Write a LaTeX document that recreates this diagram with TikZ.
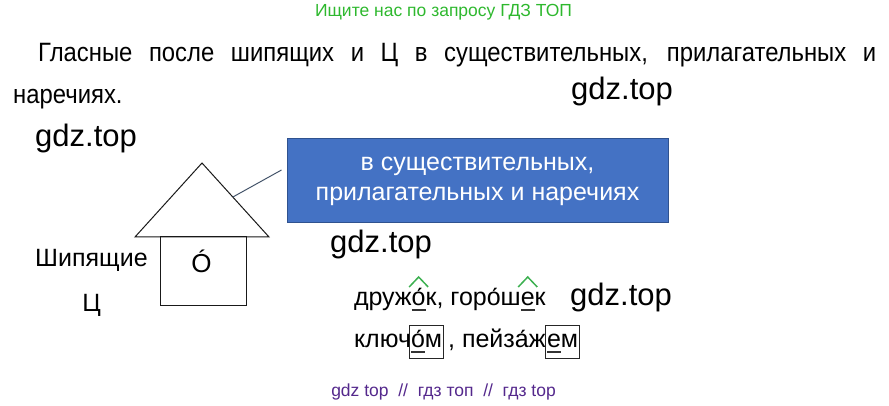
\documentclass[tikz,border=0pt]{standalone}
\usepackage{fontspec}
\setmainfont{Liberation Sans}
\newfontfamily\narrowfont[FakeStretch=0.9]{Liberation Sans}
\usetikzlibrary{calc}

\definecolor{adgreen}{RGB}{46,184,46}
\definecolor{hatgreen}{RGB}{60,176,80}
\definecolor{boxblue}{RGB}{68,114,196}
\definecolor{boxline}{RGB}{47,82,143}
\definecolor{linkgray}{RGB}{68,84,106}
\definecolor{gdzpurple}{RGB}{84,40,140}

\tikzset{
	word/.style={font=\fontsize{25}{28}\selectfont, inner sep=0pt, outer sep=0pt, anchor=base west},
	house/.style={draw=black!90, line width=1pt},
	hat/.style={draw=hatgreen, line width=1.5pt},
	uline/.style={draw=black!80, line width=1.1pt},
	endingbox/.style={draw=black!85, line width=0.9pt},
	link/.style={draw=linkgray, line width=1pt}
}

\newcommand{\gdzmark}[3]{
	\node[font=\fontsize{31}{36}\selectfont, inner sep=0, anchor=base west] (#1) at (#2,#3) {gdz.top};
}
\newcommand{\wordhat}[1]{
	\draw[hat] ([shift={(-9.5,19)}]#1.base) -- ([shift={(0,29)}]#1.base) -- ([shift={(9.5,19)}]#1.base);
}
\newcommand{\wordline}[1]{
	\draw[uline] ([yshift=-4pt]#1.base west) -- ([yshift=-4pt]#1.base east);
}
\newcommand{\suffixbox}[2]{
	\draw[endingbox] ([shift={(-1.5,-10)}]#1.base west) rectangle ([shift={(1.5,23)}]#2.base east);
}

\begin{document}
\begin{tikzpicture}[x=1pt, y=1pt]
	\useasboundingbox (0,0) rectangle (889,406);

	\node[text=adgreen, font=\fontsize{17.5}{20}\selectfont, inner sep=0, anchor=base] (ad) at (443.5,389) {Ищите нас по запросу ГДЗ ТОП};
	\node[font=\narrowfont\fontsize{26.5}{30}\selectfont, inner sep=0, anchor=base west] (title1) at (38,344) {\makebox[838pt][s]{Гласные после шипящих и Ц в существительных, прилагательных и}};
	\node[font=\narrowfont\fontsize{26.5}{30}\selectfont, inner sep=0, anchor=base west] (title2) at (13,302) {наречиях.};

	\gdzmark{gdz1}{571}{306}
	\gdzmark{gdz2}{35}{259}
	\gdzmark{gdz3}{330}{153}
	\gdzmark{gdz4}{570}{100}

	\coordinate (roof) at (202,243);
	\coordinate (eaveL) at (135,169);
	\coordinate (eaveR) at (269,169);
	\draw[house] (eaveL) -- (roof) -- (eaveR) -- cycle;
	\draw[house] (160,169) rectangle (246,100);
	\node[font=\fontsize{26}{30}\selectfont, inner sep=0, anchor=base] (vowel) at (201.5,133) {Ó};

	\node[font=\fontsize{25}{28}\selectfont, inner sep=0, anchor=base west] (hiss) at (35,139) {Шипящие};
	\node[font=\fontsize{25}{28}\selectfont, inner sep=0, anchor=base] (tse) at (91.5,94) {Ц};

	\node[fill=boxblue, draw=boxline, line width=1pt, text=white, font=\fontsize{25}{30}\selectfont, align=center, minimum width=381pt, minimum height=84pt] (rulebox) at (477.5,225) {в существительных,\\прилагательных и наречиях};
	\coordinate (roofpt) at ($(roof)!0.46!(eaveR)$);
	\draw[link] (roofpt) -- ([shift={(-5,11)}]rulebox.west);

	\node[word] (w1a) at (354,100) {друж};
	\node[word] (w1o) at (w1a.base east) {о́};
	\node[word] (w1b) at (w1o.base east) {к, горо́ш};
	\node[word] (w1e) at (w1b.base east) {е};
	\node[word] (w1c) at (w1e.base east) {к};
	\wordhat{w1o}
	\wordhat{w1e}
	\wordline{w1o}
	\wordline{w1e}

	\node[word] (w2a) at (354,58) {ключ};
	\node[word] (w2o) at (w2a.base east) {о́};
	\node[word] (w2m) at (w2o.base east) {м};
	\node[word] (w2b) at ([xshift=6pt]w2m.base east) {, пейза́ж};
	\node[word] (w2e) at ([xshift=1.5pt]w2b.base east) {е};
	\node[word] (w2n) at (w2e.base east) {м};
	\wordline{w2o}
	\wordline{w2e}
	\suffixbox{w2o}{w2m}
	\suffixbox{w2e}{w2n}

	\node[text=gdzpurple, font=\fontsize{17.5}{20}\selectfont, inner sep=0, anchor=base] (foot) at (443.5,9) {gdz top~~//~~гдз топ~~//~~гдз top};
\end{tikzpicture}
\end{document}
